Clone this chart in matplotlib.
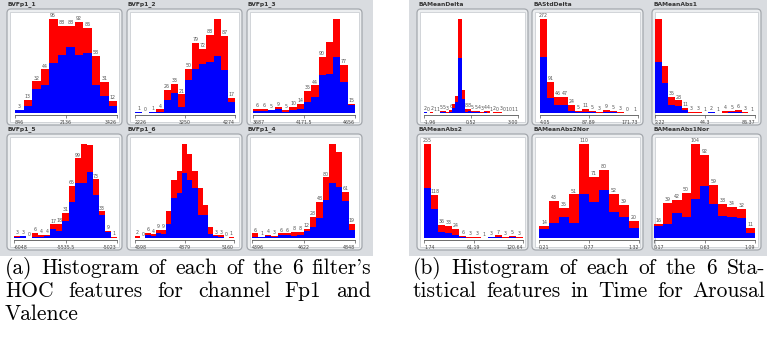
import matplotlib
matplotlib.use("Agg")
import matplotlib.pyplot as plt
from matplotlib.patches import FancyBboxPatch, Rectangle

W, H = 767, 341

# histogram data: total count per bin (label) and blue share of it
names = ["BVFp1_1", "BVFp1_2", "BVFp1_3", "BVFp1_5", "BVFp1_6", "BVFp1_4",
         "BAMeanDelta", "BAStdDelta", "BAMeanAbs1", "BAMeanAbs2", "BAMeanAbs2Nor", "BAMeanAbs1Nor"]

tot_1 = [3, 13, 32, 44, 95, 88, 88, 92, 86, 58, 31, 12]
blue_1 = [3, 7, 24, 28, 51, 59, 67, 59, 61, 28, 17, 7]
tot_2 = [1, 0, 1, 4, 26, 33, 21, 50, 79, 72, 88, 106, 87, 17]
blue_2 = [1, 0, 1, 1, 15, 22, 7, 37, 50, 55, 57, 64, 48, 12]
tot_3 = [6, 6, 5, 9, 5, 10, 14, 35, 44, 90, 114, 150, 77, 15]
blue_3 = [3, 3, 4, 7, 2, 5, 6, 18, 26, 61, 62, 89, 50, 12]
tot_5 = [3, 3, 0, 6, 4, 4, 17, 18, 31, 65, 99, 117, 116, 73, 33, 9, 1]
blue_5 = [1, 2, 0, 1, 1, 3, 11, 9, 21, 45, 68, 68, 82, 54, 29, 7, 0]
tot_6 = [2, 0, 6, 4, 9, 9, 31, 66, 76, 107, 96, 76, 57, 37, 13, 3, 3, 0, 1]
blue_6 = [0, 0, 3, 2, 6, 4, 16, 45, 51, 74, 66, 57, 26, 26, 4, 2, 1, 0, 0]
tot_4 = [6, 1, 4, 3, 6, 6, 8, 8, 12, 28, 48, 80, 124, 113, 61, 19]
blue_4 = [1, 1, 2, 1, 4, 4, 3, 4, 9, 15, 26, 50, 73, 67, 49, 11]

tot_md = [2, 0, 2, 1, 1, 5, 5, 3, 6, 19, 37, 205, 50, 8, 8, 5, 5, 4, 3, 4, 4, 1, 2, 0, 3, 0, 1, 0, 1, 1]
blue_md = [2, 0, 1, 0, 1, 2, 3, 1, 3, 10, 24, 120, 30, 3, 4, 2, 3, 2, 1, 2, 0, 1, 0, 2, 0, 0, 0, 1, 0, 0]
tot_sd = [272, 91, 46, 47, 24, 5, 11, 5, 3, 9, 5, 3, 0, 1]
blue_sd = [162, 42, 23, 23, 7, 2, 4, 2, 1, 4, 2, 1, 0, 0]
tot_a1 = [208, 103, 35, 28, 11, 3, 3, 1, 2, 1, 4, 5, 6, 3, 1]
blue_a1 = [112, 67, 17, 15, 6, 1, 0, 1, 2, 1, 1, 2, 2, 1, 1]
tot_a2 = [255, 118, 36, 33, 24, 6, 3, 3, 1, 3, 7, 3, 5, 3]
blue_a2 = [136, 78, 16, 14, 7, 2, 1, 1, 1, 2, 3, 1, 3, 1]
tot_a2n = [14, 43, 35, 51, 110, 71, 80, 52, 39, 20]
blue_a2n = [11, 18, 24, 17, 52, 42, 56, 30, 24, 12]
tot_a1n = [16, 39, 42, 50, 104, 92, 59, 38, 34, 32, 11]
blue_a1n = [13, 16, 28, 23, 43, 57, 38, 24, 23, 22, 6]

totals = [tot_1, tot_2, tot_3, tot_5, tot_6, tot_4, tot_md, tot_sd, tot_a1, tot_a2, tot_a2n, tot_a1n]
blues = [blue_1, blue_2, blue_3, blue_5, blue_6, blue_4, blue_md, blue_sd, blue_a1, blue_a2, blue_a2n, blue_a1n]

tick_labels = [["846", "2136", "3426"], ["2226", "3250", "4274"], ["3687", "4171.5", "4656"],
               ["-6048", "-5535.5", "-5023"], ["4598", "4879", "5160"], ["4396", "4622", "4848"],
               ["-1.96", "0.52", "3.00"], ["4.05", "87.89", "171.73"], ["2.22", "44.3", "86.37"],
               ["1.74", "61.19", "120.64"], ["0.21", "0.77", "1.32"], ["0.17", "0.63", "1.09"]]

# counts above this are not written on the bar (too narrow)
label_limit = [1000, 100, 100, 100, 10, 100, 10, 1000, 100, 1000, 1000, 1000]

# layout in pixels
frames = [(7, 9, 122, 125), (127, 9, 242, 125), (247, 9, 362, 125),
          (7, 134, 122, 250), (127, 134, 242, 250), (247, 134, 362, 250),
          (417, 9, 528, 125), (532, 9, 643, 125), (652, 9, 761, 125),
          (417, 134, 528, 250), (532, 134, 643, 250), (652, 134, 761, 250)]
bar_x = [(15, 117), (135, 235), (253, 355), (14, 117), (135, 234), (252, 355),
         (424, 518), (540, 638), (655, 755), (424, 523), (539, 639), (654, 755)]

fig = plt.figure(figsize=(W / 100, H / 100), dpi=100)
fig.patch.set_facecolor("white")
inch = fig.dpi_scale_trans


def box(x0, y0, x1, y1, **kw):
    return FancyBboxPatch((x0 / 100, (H - y1) / 100), (x1 - x0) / 100, (y1 - y0) / 100,
                          transform=inch, zorder=-5, **kw)


# grey panels behind the two screenshots
fig.add_artist(Rectangle((0, (H - 256) / 100), 373 / 100, 256 / 100, transform=inch,
                         facecolor="#d9dce0", edgecolor="none", zorder=-10))
fig.add_artist(Rectangle((409 / 100, (H - 256) / 100), 358 / 100, 256 / 100, transform=inch,
                         facecolor="#d9dce0", edgecolor="none", zorder=-10))

for i in range(12):
    fx0, fy0, fx1, fy1 = frames[i]
    fig.add_artist(box(fx0, fy0, fx1, fy1, boxstyle="round,pad=0,rounding_size=0.04",
                       facecolor="#eceef0", edgecolor="#a4a8ad", linewidth=0.9))
    fig.add_artist(box(fx0 + 3, fy0 + 3, fx1 - 3, fy1 - 3, boxstyle="square,pad=0",
                       facecolor="white", edgecolor="#c4c8cc", linewidth=0.5))
    fig.text((fx0 + 1) / W, 1 - (fy0 - 4.5) / H, names[i], fontsize=4.3, fontweight="bold",
             color="#333333", ha="left", va="center")

    top = 19 if fy0 < 100 else 144
    base = 113 if fy0 < 100 else 238
    x0, x1 = bar_x[i]
    ax = fig.add_axes([x0 / W, 1 - base / H, (x1 - x0) / W, (base - top) / H])
    ax.set_zorder(5)
    tot = totals[i]
    bl = blues[i]
    n = len(tot)
    red = [t - b for t, b in zip(tot, bl)]
    xs = list(range(n))
    ax.bar(xs, bl, width=1, align="edge", color="#0000ff", linewidth=0)
    ax.bar(xs, red, width=1, bottom=bl, align="edge", color="#ff0000", linewidth=0)
    for k, t in enumerate(tot):
        if t < label_limit[i]:
            ax.annotate(str(t), (k + 0.5, t), xytext=(0, 0.6), textcoords="offset points",
                        ha="center", va="bottom", fontsize=3.4, color="#555555",
                        annotation_clip=False)
    ax.set_xlim(0, n)
    ax.set_ylim(0, max(tot))
    ax.patch.set_visible(False)
    for s in ["top", "right", "left"]:
        ax.spines[s].set_visible(False)
    ax.spines["bottom"].set_position(("outward", 1.5))
    ax.spines["bottom"].set_color("#555555")
    ax.spines["bottom"].set_linewidth(0.6)
    ax.set_yticks([])
    ax.set_xticks([0, n / 2, n])
    ax.set_xticklabels(tick_labels[i])
    ax.tick_params(axis="x", length=1.8, width=0.5, color="#555555", labelsize=3.4,
                   labelcolor="#444444", pad=1.5)
    lbls = ax.get_xticklabels()
    lbls[0].set_ha("left")
    lbls[2].set_ha("right")

# captions, justified like the LaTeX source
cap_font = dict(fontsize=15.5, family="cmr10", color="black", va="center")
renderer = fig.canvas.get_renderer()


def caption_line(text, x0, x1, y, justify=True):
    words = text.split(" ")
    items = [fig.text(0, 0, w, **cap_font) for w in words]
    widths = [t.get_window_extent(renderer).width for t in items]
    if justify and len(words) > 1:
        gap = (x1 - x0 - sum(widths)) / (len(words) - 1)
    else:
        gap = 5
    x = x0
    for t, w in zip(items, widths):
        t.set_position((x / W, 1 - y / H))
        x += w + gap


caption_line("(a) Histogram of each of the 6 filter's", 5, 371, 268)
caption_line("HOC features for channel Fp1 and", 5, 371, 291)
caption_line("Valence", 5, 371, 314, justify=False)
caption_line("(b) Histogram of each of the 6 Sta-", 413, 765, 268)
caption_line("tistical features in Time for Arousal", 413, 765, 291)

fig.savefig("out.png", dpi=100)
